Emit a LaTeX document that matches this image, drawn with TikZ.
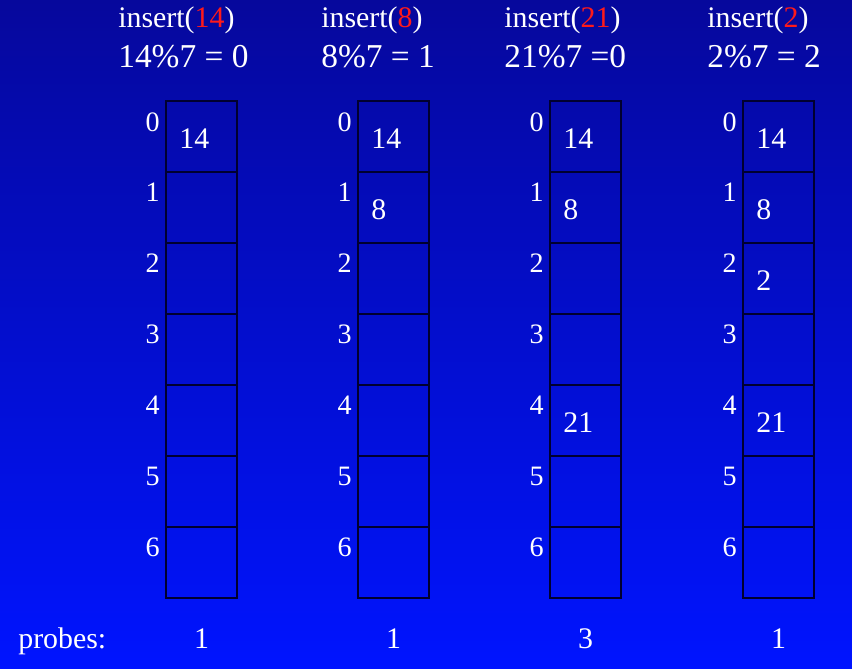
\documentclass[tikz,border=0pt]{standalone}
\usepackage{fontspec}
\setmainfont{Liberation Serif}
\usepackage{xcolor}
\usepackage{tikz}
\usetikzlibrary{positioning}
\definecolor{bgTop}{HTML}{06089C}
\definecolor{bgMid}{HTML}{0010E2}
\definecolor{bgBottom}{HTML}{0014FF}
\definecolor{cellLine}{HTML}{000030}
\definecolor{keyRed}{HTML}{FF1A1A}
\tikzset{txt/.style={text=white, inner sep=0, font=\fontsize{17}{20}\selectfont}}
\tikzset{modtxt/.style={txt, font=\fontsize{19}{22}\selectfont}}
\tikzset{cell/.style={draw=cellLine, line width=0.9pt, inner sep=0, outer sep=0, minimum width=1.42cm, minimum height=1.42cm}}
\tikzset{idx/.style={txt, font=\fontsize{16}{19}\selectfont}}
\tikzset{val/.style={txt}}
\newcommand{\hashcolumn}[2] {
    \node[cell, anchor=north west] (cell#10) at (#2) {};
    \node[cell, below=0cm of cell#10] (cell#11) {};
    \node[cell, below=0cm of cell#11] (cell#12) {};
    \node[cell, below=0cm of cell#12] (cell#13) {};
    \node[cell, below=0cm of cell#13] (cell#14) {};
    \node[cell, below=0cm of cell#14] (cell#15) {};
    \node[cell, below=0cm of cell#15] (cell#16) {};

    \node[idx, below left=0.22cm and 0.12cm of cell#10.north west] (idx#10) {0};
    \node[idx, below left=0.22cm and 0.12cm of cell#11.north west] (idx#11) {1};
    \node[idx, below left=0.22cm and 0.12cm of cell#12.north west] (idx#12) {2};
    \node[idx, below left=0.22cm and 0.12cm of cell#13.north west] (idx#13) {3};
    \node[idx, below left=0.22cm and 0.12cm of cell#14.north west] (idx#14) {4};
    \node[idx, below left=0.22cm and 0.12cm of cell#15.north west] (idx#15) {5};
    \node[idx, below left=0.22cm and 0.12cm of cell#16.north west] (idx#16) {6};
}
\newcommand{\hashvalue}[2] {
    \node[val, below right=0.54cm and 0.26cm of cell#1.north west] (val#1) {#2};
}

\begin{document}
\begin{tikzpicture}[]
    \useasboundingbox (0,0) rectangle (17.04,-13.36);
    \shade[top color=bgTop, middle color=bgMid, bottom color=bgBottom] (0,0) rectangle (17.04,-13.36);

    % headers
    \node[txt, anchor=base west] (insert1) at (2.36,-0.54) {insert(\textcolor{keyRed}{14})};
    \node[modtxt, anchor=base west] (mod1) at (2.36,-1.34) {14\%7 = 0};
    \node[txt, anchor=base west] (insert2) at (6.42,-0.54) {insert(\textcolor{keyRed}{8})};
    \node[modtxt, anchor=base west] (mod2) at (6.42,-1.34) {8\%7 = 1};
    \node[txt, anchor=base west] (insert3) at (10.08,-0.54) {insert(\textcolor{keyRed}{21})};
    \node[modtxt, anchor=base west] (mod3) at (10.08,-1.34) {21\%7 =0};
    \node[txt, anchor=base west] (insert4) at (14.14,-0.54) {insert(\textcolor{keyRed}{2})};
    \node[modtxt, anchor=base west] (mod4) at (14.14,-1.34) {2\%7 = 2};

    % tables
    \hashcolumn{1}{3.32,-2.02}
    \hashcolumn{2}{7.16,-2.02}
    \hashcolumn{3}{11.0,-2.02}
    \hashcolumn{4}{14.86,-2.02}

    \hashvalue{10}{14}
    \hashvalue{20}{14}
    \hashvalue{21}{8}
    \hashvalue{30}{14}
    \hashvalue{31}{8}
    \hashvalue{34}{21}
    \hashvalue{40}{14}
    \hashvalue{41}{8}
    \hashvalue{42}{2}
    \hashvalue{44}{21}

    % probes
    \node[txt, anchor=base west] (probes) at (0.36,-12.96) {probes:};
    \node[txt, anchor=base] (probes1) at ([yshift=-1.0cm]cell16.south) {1};
    \node[txt, anchor=base] (probes2) at ([yshift=-1.0cm]cell26.south) {1};
    \node[txt, anchor=base] (probes3) at ([yshift=-1.0cm]cell36.south) {3};
    \node[txt, anchor=base] (probes4) at ([yshift=-1.0cm]cell46.south) {1};
\end{tikzpicture}
\end{document}
